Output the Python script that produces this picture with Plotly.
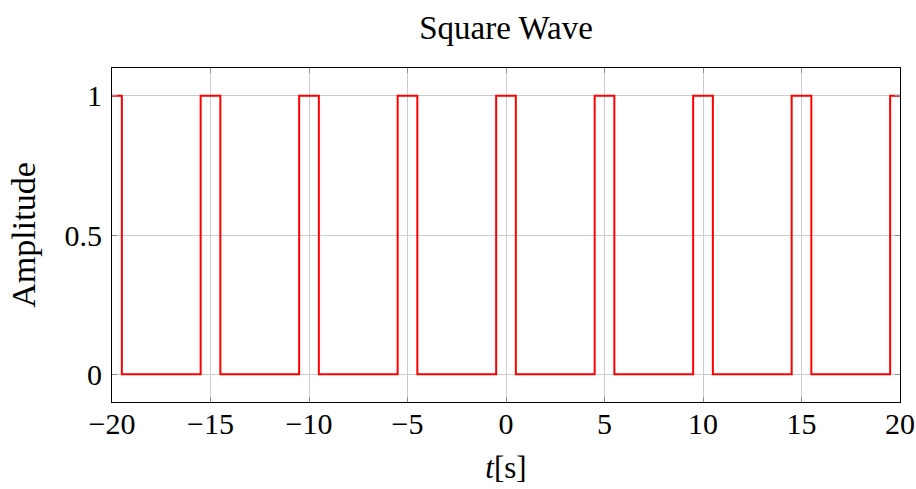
import plotly.graph_objects as go

t_points = [-20, -19.5, -15.5, -14.5, -10.5, -9.5, -5.5, -4.5, -0.5, 0.5,
            4.5, 5.5, 9.5, 10.5, 14.5, 15.5, 19.5, 20]
amplitude = [1, 0, 1, 0, 1, 0, 1, 0, 1, 0, 1, 0, 1, 0, 1, 0, 1, 1]
x_ticks = [-20, -15, -10, -5, 0, 5, 10, 15, 20]
x_tick_labels = ["\u221220", "\u221215", "\u221210", "\u22125", "0", "5", "10", "15", "20"]
y_ticks = [0, 0.5, 1]
y_tick_labels = ["0", "0.5", "1"]

FONT = "Liberation Serif"
W, H = 916, 489

fig = go.Figure()
fig.add_trace(go.Scatter(x=t_points, y=amplitude, mode="lines", line_shape="hv",
                         line=dict(color="#ff0000", width=2), showlegend=False))

fig.update_layout(
    width=W, height=H,
    margin=dict(l=112, r=16, t=68, b=87, autoexpand=False),
    paper_bgcolor="white", plot_bgcolor="white",
    font=dict(family=FONT, color="black", size=30),
    title=dict(text="Square Wave", x=0.5, xanchor="center", y=1 - 27 / H, yanchor="middle",
               xref="paper", font=dict(family=FONT, size=33)),
)
fig.update_xaxes(range=[-20, 20], tickvals=x_ticks, ticktext=x_tick_labels,
                 showgrid=True, gridcolor="#cccccc", gridwidth=1,
                 ticks="inside", ticklen=5, tickcolor="#8c8c8c", tickwidth=1,
                 showline=True, linecolor="black", linewidth=1, mirror="ticks",
                 zeroline=False, ticklabelstandoff=-5,
                 title=dict(text="<i>t</i>[s]", font=dict(size=31), standoff=17),
                 tickfont=dict(size=30))
fig.update_yaxes(range=[-0.1, 1.1], tickvals=y_ticks, ticktext=y_tick_labels,
                 showgrid=True, gridcolor="#cccccc", gridwidth=1,
                 ticks="inside", ticklen=5, tickcolor="#8c8c8c", tickwidth=1,
                 showline=True, linecolor="black", linewidth=1, mirror="ticks",
                 zeroline=False, ticklabelstandoff=3,
                 title=dict(text="Amplitude", font=dict(size=34), standoff=18),
                 tickfont=dict(size=30))

fig.write_html("out.html", config={"displayModeBar": False},
               post_script="document.body.style.margin='0';document.body.style.overflow='hidden';")
